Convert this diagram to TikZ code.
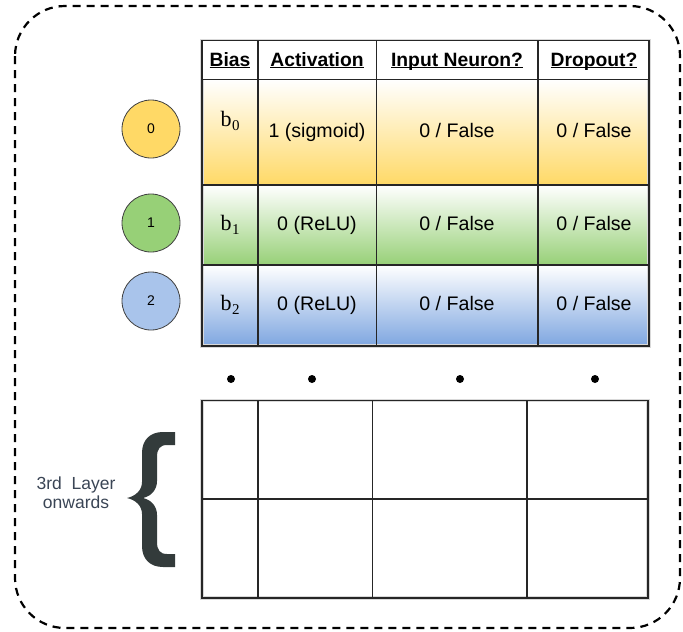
\documentclass[tikz,border=0pt]{standalone}
\usepackage[no-math]{fontspec}
\setmainfont{Liberation Sans}
\newfontfamily\biasfont{Liberation Serif}
\definecolor{yel}{HTML}{FFD966}
\definecolor{grn}{HTML}{97D077}
\definecolor{blu}{HTML}{7EA6E0}
\definecolor{blucirc}{HTML}{A9C4EB}
\definecolor{bracec}{HTML}{333B3B}
\definecolor{labelc}{HTML}{3A4555}
% bold, underlined column heading
\newcommand\colhead[1]{\setbox0\hbox{\bfseries #1}\rlap{\rule[-2.4pt]{\wd0}{1.3pt}}\box0}
% bias symbol b with a lowered index
\newcommand\biassym[1]{{\biasfont b\kern0.5pt\raisebox{-4.5pt}{\fontsize{15}{15}\selectfont #1}}}
\tikzset{
  frame/.style={line width=2.2pt, dash pattern=on 8pt off 6pt, rounded corners=50pt},
  grid/.style={line width=1.2pt, black!85},
  halo/.style={line width=3.5pt, black!15},
  hdr/.style={anchor=base, inner sep=0pt, font=\fontsize{19.3}{22}\selectfont},
  cell/.style={anchor=base, inner sep=0pt, font=\fontsize{19.6}{22}\selectfont},
  bias/.style={anchor=base, inner sep=0pt, font=\fontsize{22}{24}\selectfont},
  neuron/.style={circle, draw=black!75, line width=0.8pt, minimum size=58pt, inner sep=0pt, font=\fontsize{14}{16}\selectfont},
  dot/.style={circle, fill=black, minimum size=8pt, inner sep=0pt},
  side/.style={align=center, inner sep=0pt, text=labelc, font=\fontsize{17.5}{19}\selectfont}
}
\begin{document}
\begin{tikzpicture}[x=1pt, y=-1pt]
\useasboundingbox (0,0) rectangle (683,632);
% outer dashed frame
\draw[frame] (15,6) rectangle (680,628);

% ---- upper table: shaded rows ----
\shade[top color=white, bottom color=yel] (202,79.5) rectangle (649,185);
\shade[top color=white, bottom color=grn] (202,185) rectangle (649,265);
\shade[top color=white, bottom color=blu] (202,265) rectangle (649,346);
\draw[halo] (202,40.5) rectangle (649,346);
\fill[white] (202,40.5) rectangle (649,79.5);
\draw[grid] (202,40.5) rectangle (649,346);
\foreach \y in {79.5,185,265} \draw[grid] (202,\y) -- (649,\y);
\foreach \x in {258,376.5,538} \draw[grid] (\x,40.5) -- (\x,346);

% headings
\node[hdr] (hbias) at (230,66) {\colhead{Bias}};
\node[hdr] (hact)  at (317,66) {\colhead{Activation}};
\node[hdr] (hin)   at (457,66) {\colhead{Input Neuron?}};
\node[hdr] (hdrop) at (594,66) {\colhead{Dropout?}};

% row 0
\node[bias] (b0) at (230,126) {\biassym{0}};
\node[cell] (a0) at (317,137) {1 (sigmoid)};
\node[cell] (i0) at (457,137) {0 / False};
\node[cell] (d0) at (594,137) {0 / False};
% row 1
\node[bias] (b1) at (230,230) {\biassym{1}};
\node[cell] (a1) at (317,230) {0 (ReLU)};
\node[cell] (i1) at (457,230) {0 / False};
\node[cell] (d1) at (594,230) {0 / False};
% row 2
\node[bias] (b2) at (230,310) {\biassym{2}};
\node[cell] (a2) at (317,310) {0 (ReLU)};
\node[cell] (i2) at (457,310) {0 / False};
\node[cell] (d2) at (594,310) {0 / False};

% neurons
\node[neuron, fill=yel]     (n0) at (151,129) {0};
\node[neuron, fill=grn]     (n1) at (151,223) {1};
\node[neuron, fill=blucirc] (n2) at (151,301) {2};

% continuation dots
\node[dot] (p0) at (231,379) {};
\node[dot] (p1) at (312,379) {};
\node[dot] (p2) at (460,379) {};
\node[dot] (p3) at (595,379) {};

% ---- lower (empty) table ----
\draw[halo] (202,400.5) rectangle (648,598);
\draw[grid] (202,400.5) rectangle (648,598);
\draw[grid] (202,499) -- (648,499);
\foreach \x in {258,372.5,527} \draw[grid] (\x,400.5) -- (\x,598);

% brace and its label
\fill[bracec] (175,432) -- (163,432) .. controls (150,432) and (142,440) .. (142,453)
  -- (142,482) .. controls (142,490) and (136,496) .. (127,498)
  .. controls (136,500) and (142,506) .. (142,514) -- (142,546)
  .. controls (142,559) and (150,567) .. (163,567) -- (175,567) -- (175,554) -- (167,554)
  .. controls (160,554) and (157,550) .. (157,542) -- (157,515)
  .. controls (157,507) and (152,500) .. (143,498)
  .. controls (152,496) and (157,489) .. (157,481) -- (157,457)
  .. controls (157,449) and (160,445) .. (167,445) -- (175,445) -- cycle;
\node[side] (lab) at (76,493) {3rd\ \ Layer\\onwards};
\end{tikzpicture}
\end{document}
